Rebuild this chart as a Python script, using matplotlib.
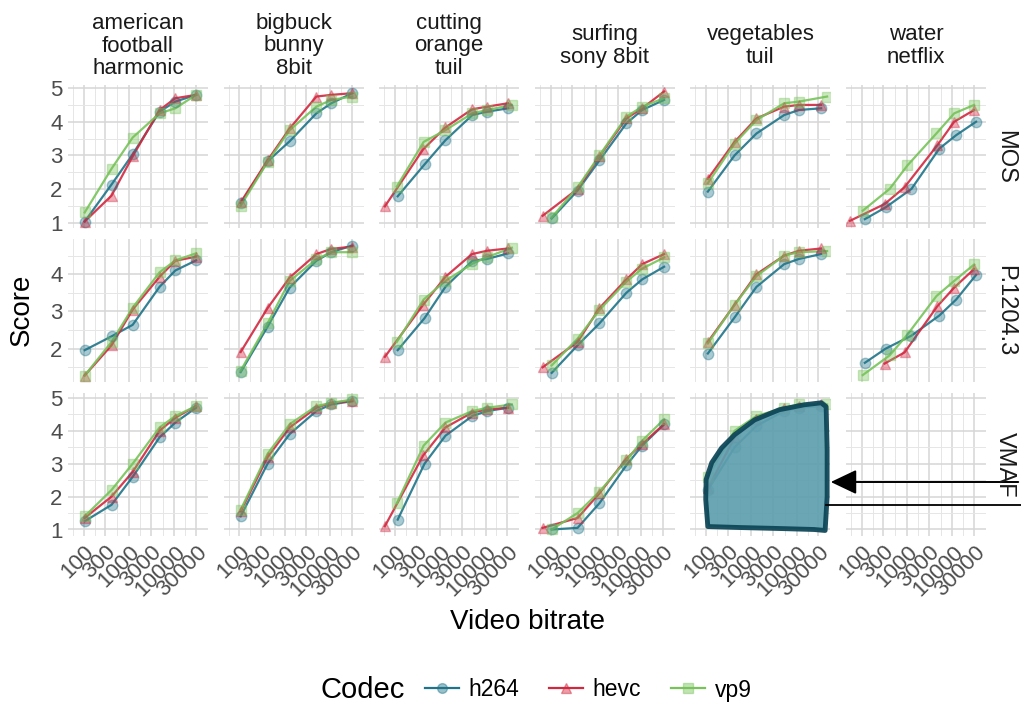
import numpy as np
import matplotlib
matplotlib.use("Agg")
import matplotlib.pyplot as plt
from matplotlib.lines import Line2D
from matplotlib.patches import Polygon, FancyArrowPatch
from matplotlib.ticker import FixedLocator, NullFormatter, MultipleLocator

plt.rcParams["font.family"] = ["Liberation Sans", "DejaVu Sans"]

W, H = 1021, 704

strip_top = ["american\nfootball\nharmonic", "bigbuck\nbunny\n8bit", "cutting\norange\ntuil",
             "surfing\nsony 8bit", "vegetables\ntuil", "water\nnetflix"]
metrics = ["MOS", "P.1204.3", "VMAF"]
codecs = ["h264", "hevc", "vp9"]
codec_colors = {"h264": "#1f7489", "hevc": "#d2283f", "vp9": "#77c35a"}
codec_markers = {"h264": "o", "hevc": "^", "vp9": "s"}

x_breaks = [100, 300, 1000, 3000, 10000, 30000]
x_minor = [58, 173, 548, 1732, 5477, 17321, 54772]

# bitrates (kbps) per video and codec
rate_football = {"h264": [105, 410, 1200, 4700, 10500, 30000],
                 "hevc": [105, 410, 1200, 4700, 10500, 30000],
                 "vp9":  [105, 410, 1200, 4700, 10500, 30000]}
rate_bigbuck = {"h264": [107, 420, 1290, 5000, 10700, 31000],
                "hevc": [107, 420, 1290, 5000, 10700, 31000],
                "vp9":  [107, 420, 1290, 5000, 10700, 31000]}
rate_cutting = {"h264": [115, 450, 1300, 5100, 10900, 31400],
                "hevc": [60, 420, 1300, 5000, 10900, 31000],
                "vp9":  [110, 430, 1300, 5100, 10900, 38000]}
rate_surfing = {"h264": [106, 395, 1200, 4700, 10500, 32000],
                "hevc": [67, 395, 1200, 4700, 10500, 32000],
                "vp9":  [106, 395, 1200, 4700, 10500, 32000]}
rate_vegetables = {"h264": [109, 425, 1290, 5270, 11200, 34400],
                   "hevc": [109, 425, 1290, 5270, 11200, 34400],
                   "vp9":  [109, 425, 1290, 5270, 11200, 46500]}
rate_water = {"h264": [117, 336, 1250, 5140, 12100, 33300],
              "hevc": [55, 320, 880, 4650, 10960, 30100],
              "vp9":  [105, 412, 1020, 4430, 10960, 30100]}

# MOS
mos_football = {"h264": [1.03, 2.13, 3.03, 4.30, 4.60, 4.80],
                "hevc": [1.03, 1.80, 2.97, 4.35, 4.70, 4.80],
                "vp9":  [1.30, 2.60, 3.53, 4.25, 4.40, 4.80]}
mos_bigbuck = {"h264": [1.57, 2.82, 3.42, 4.25, 4.55, 4.85],
               "hevc": [1.60, 2.85, 3.80, 4.75, 4.80, 4.85],
               "vp9":  [1.50, 2.80, 3.75, 4.45, 4.65, 4.75]}
mos_cutting = {"h264": [1.78, 2.73, 3.45, 4.20, 4.30, 4.40],
               "hevc": [1.48, 3.18, 3.83, 4.37, 4.45, 4.55],
               "vp9":  [2.07, 3.40, 3.75, 4.25, 4.35, 4.50]}
mos_surfing = {"h264": [1.12, 1.95, 2.85, 3.95, 4.35, 4.65],
               "hevc": [1.20, 2.00, 2.97, 4.10, 4.40, 4.90],
               "vp9":  [1.15, 2.05, 3.00, 4.15, 4.45, 4.70]}
mos_vegetables = {"h264": [1.92, 3.00, 3.65, 4.20, 4.35, 4.40],
                  "hevc": [2.30, 3.40, 4.10, 4.45, 4.50, 4.50],
                  "vp9":  [2.17, 3.35, 4.05, 4.55, 4.60, 4.75]}
mos_water = {"h264": [1.10, 1.45, 2.00, 3.20, 3.60, 4.00],
             "hevc": [1.05, 1.55, 2.05, 3.30, 4.00, 4.35],
             "vp9":  [1.35, 2.00, 2.70, 3.65, 4.25, 4.50]}

# P.1204.3
p1204_football = {"h264": [1.96, 2.33, 2.64, 3.66, 4.10, 4.37],
                  "hevc": [1.28, 2.09, 3.05, 3.93, 4.36, 4.47],
                  "vp9":  [1.28, 2.18, 3.10, 4.05, 4.37, 4.56]}
p1204_bigbuck = {"h264": [1.37, 2.59, 3.64, 4.36, 4.59, 4.77],
                 "hevc": [1.91, 3.09, 3.91, 4.54, 4.68, 4.74],
                 "vp9":  [1.41, 2.68, 3.82, 4.40, 4.59, 4.59]}
p1204_cutting = {"h264": [1.96, 2.82, 3.66, 4.36, 4.41, 4.56],
                 "hevc": [1.78, 3.18, 3.93, 4.54, 4.63, 4.69],
                 "vp9":  [2.18, 3.32, 3.82, 4.28, 4.46, 4.71]}
p1204_surfing = {"h264": [1.35, 2.09, 2.68, 3.50, 3.86, 4.20],
                 "hevc": [1.50, 2.18, 3.09, 3.86, 4.27, 4.54],
                 "vp9":  [1.55, 2.27, 3.04, 3.80, 4.15, 4.45]}
p1204_vegetables = {"h264": [1.87, 2.84, 3.66, 4.27, 4.41, 4.54],
                    "hevc": [2.18, 3.18, 4.00, 4.50, 4.63, 4.69],
                    "vp9":  [2.14, 3.18, 3.95, 4.50, 4.59, 4.62]}
p1204_water = {"h264": [1.62, 2.00, 2.35, 2.89, 3.32, 3.98],
               "hevc": [np.nan, 1.60, 1.90, 3.14, 3.64, 4.14],
               "vp9":  [1.29, 1.82, 2.38, 3.41, 3.82, 4.26]}

# VMAF (no VMAF for water netflix)
vmaf_football = {"h264": [1.25, 1.75, 2.60, 3.80, 4.25, 4.70],
                 "hevc": [1.35, 2.00, 2.75, 4.00, 4.40, 4.75],
                 "vp9":  [1.40, 2.20, 3.00, 4.10, 4.45, 4.75]}
vmaf_bigbuck = {"h264": [1.40, 3.00, 3.90, 4.60, 4.80, 4.90],
                "hevc": [1.55, 3.20, 4.10, 4.70, 4.85, 4.90],
                "vp9":  [1.60, 3.30, 4.20, 4.75, 4.85, 4.95]}
vmaf_cutting = {"h264": [1.30, 3.00, 3.85, 4.45, 4.60, 4.70],
                "hevc": [1.10, 3.25, 4.10, 4.55, 4.65, 4.70],
                "vp9":  [1.80, 3.55, 4.25, 4.60, 4.70, 4.80]}
vmaf_surfing = {"h264": [1.00, 1.05, 1.80, 2.95, 3.55, 4.20],
                "hevc": [1.05, 1.35, 2.10, 3.15, 3.60, 4.20],
                "vp9":  [1.00, 1.50, 2.15, 3.10, 3.70, 4.35]}
vmaf_vegetables = {"h264": [2.20, 3.50, 4.15, 4.60, 4.70, 4.75],
                   "hevc": [2.25, 3.80, 4.35, 4.70, 4.75, 4.80],
                   "vp9":  [2.60, 4.00, 4.45, 4.70, 4.80, 4.80]}
vmaf_water = None

rates = [rate_football, rate_bigbuck, rate_cutting, rate_surfing, rate_vegetables, rate_water]
scores = {
    "MOS": [mos_football, mos_bigbuck, mos_cutting, mos_surfing, mos_vegetables, mos_water],
    "P.1204.3": [p1204_football, p1204_bigbuck, p1204_cutting, p1204_surfing, p1204_vegetables, p1204_water],
    "VMAF": [vmaf_football, vmaf_bigbuck, vmaf_cutting, vmaf_surfing, vmaf_vegetables, vmaf_water],
}

# hand-drawn highlight in vegetables / VMAF panel (bitrate, score)
blob_rate = [109, 98, 100, 133, 220, 425, 1170, 4120, 14600, 34400, 44300, 46600, 46600, 42100, 24100, 4120, 547]
blob_score = [1.09, 1.91, 2.52, 3.03, 3.48, 3.88, 4.33, 4.64, 4.79, 4.85, 4.73, 3.42, 2.00, 0.97, 1.00, 1.03, 1.06]

fig = plt.figure(figsize=(W / 100, H / 100), dpi=100)

col_left = [68, 223.6, 379.2, 534.8, 690.4, 846]
row_top = [85, 239, 393]
pw, ph = 140, 143

axes = np.empty((3, 6), dtype=object)
for r in range(3):
    for c in range(6):
        sharey = axes[r, 0] if c > 0 else None
        ax = fig.add_axes([col_left[c] / W, 1 - (row_top[r] + ph) / H, pw / W, ph / H], sharey=sharey)
        axes[r, c] = ax

for r, metric in enumerate(metrics):
    for c in range(6):
        ax = axes[r, c]
        data = scores[metric][c]
        if data is not None:
            for codec in codecs:
                x = rates[c][codec]
                y = data[codec]
                col = codec_colors[codec]
                ax.plot(x, y, color=col, lw=1.6, alpha=0.9, zorder=3)
                ax.plot(x, y, ls="none", marker=codec_markers[codec], ms=7.5, mfc=col, mec=col,
                        alpha=0.38, zorder=4)
        ax.set_xscale("log")
        ax.set_xlim(45, 55000)
        ax.xaxis.set_major_locator(FixedLocator(x_breaks))
        ax.xaxis.set_minor_locator(FixedLocator(x_minor))
        ax.xaxis.set_minor_formatter(NullFormatter())
        ax.yaxis.set_major_locator(MultipleLocator(1))
        ax.yaxis.set_minor_locator(MultipleLocator(0.5))
        ax.grid(which="major", color="#d6d6d6", lw=1.1, zorder=0)
        ax.grid(which="minor", color="#e6e6e6", lw=0.7, zorder=0)
        ax.set_axisbelow(True)
        for s in ax.spines.values():
            s.set_visible(False)
        ax.tick_params(which="both", length=0, labelsize=16, labelcolor="#4d4d4d", pad=4)
        if r == 2:
            ax.set_xticklabels([str(b) for b in x_breaks], rotation=45, ha="right", va="top",
                               rotation_mode="anchor")
        else:
            ax.tick_params(axis="x", labelbottom=False)
        if c > 0:
            ax.tick_params(axis="y", labelleft=False)
        if r == 0:
            fig.text((col_left[c] + pw / 2) / W, 1 - 46 / H, strip_top[c], ha="center", va="center",
                     fontsize=16, color="#1a1a1a", linespacing=1.1, multialignment="center")
    fig.text(1005 / W, 1 - (row_top[r] + ph / 2) / H, metric, rotation=-90, ha="center", va="center",
             fontsize=17, color="#1a1a1a")

# highlight shape
blob = Polygon(list(zip(blob_rate, blob_score)), closed=True, facecolor="#5f9fae", alpha=0.93,
               edgecolor="#0c4556", lw=3.5, joinstyle="round", zorder=6)
axes[2, 4].add_patch(blob)

fig.add_artist(FancyArrowPatch((1.0, 1 - 482 / H), (828 / W, 1 - 482 / H), transform=fig.transFigure,
                               arrowstyle="-|>,head_length=0.8,head_width=0.38", mutation_scale=20,
                               color="black", lw=1.4))
fig.add_artist(Line2D([826 / W, 1.0], [1 - 505 / H, 1 - 505 / H], transform=fig.transFigure,
                      color="black", lw=1.3))

fig.text(527 / W, 1 - 622 / H, "Video bitrate", ha="center", va="center", fontsize=20)
fig.text(22 / W, 1 - 310 / H, "Score", rotation=90, ha="center", va="center", fontsize=20)

handles = [Line2D([0], [0], color=codec_colors[k], lw=1.6, marker=codec_markers[k], ms=7,
                  mfc=matplotlib.colors.to_rgba(codec_colors[k], 0.45),
                  mec=matplotlib.colors.to_rgba(codec_colors[k], 0.45)) for k in codecs]
fig.text(320 / W, 1 - 690 / H, "Codec", ha="left", va="center", fontsize=21)
fig.legend(handles, codecs, loc="center left", bbox_to_anchor=(425 / W, 1 - 690 / H), ncol=3,
           frameon=False, fontsize=16.5, handlelength=1.5, handletextpad=0.4, columnspacing=1.3,
           borderaxespad=0, borderpad=0)

fig.savefig("out.png", dpi=100)
